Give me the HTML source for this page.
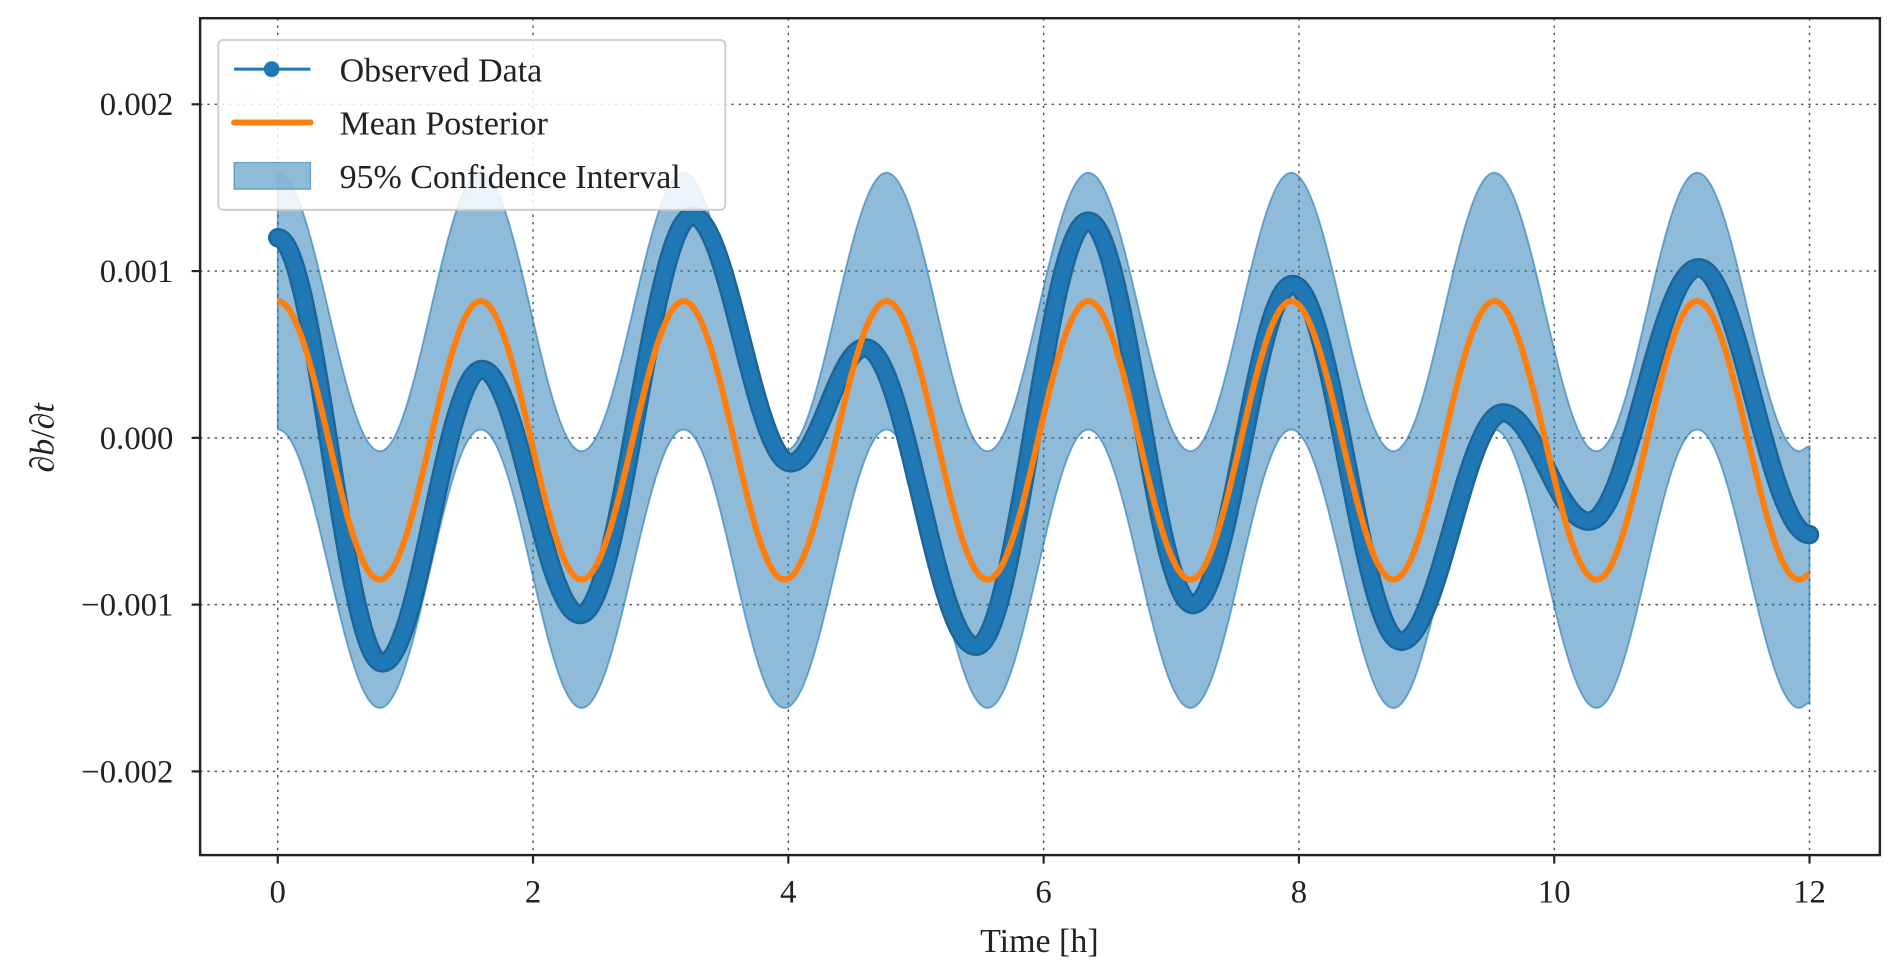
<!DOCTYPE html>
<html><head><meta charset="utf-8"><style>
html,body{margin:0;padding:0;background:#fff;}
svg{display:block;}
svg text{font-family:"Liberation Serif",serif;fill:#222;}
</style></head><body>
<svg id="chart" width="1892" height="976" viewBox="0 0 1560 804.7" preserveAspectRatio="none" xmlns="http://www.w3.org/2000/svg">
<g id="grid"></g>
<g id="band"></g>
<g id="obs"></g>
<g id="mean"></g>
<rect x="165" y="15" width="1385" height="690" fill="none" stroke="#222" stroke-width="2"/>
<g id="ticks"></g>
<text x="857" y="785" font-size="28" text-anchor="middle">Time [h]</text>
<text transform="translate(44,361) rotate(-90)" font-size="28" text-anchor="middle">∂<tspan font-style="italic">b</tspan>/∂<tspan font-style="italic">t</tspan></text>
<g>
<rect x="180" y="33" width="418" height="140" rx="4" fill="#fff" fill-opacity="0.85" stroke="#ccc" stroke-width="1.5"/>
<g>
<line x1="193" y1="57" x2="256" y2="57" stroke="#1f77b4" stroke-width="2.5"/>
<circle cx="224" cy="57" r="6.5" fill="#1f77b4"/>
<text x="280" y="67" font-size="28">Observed Data</text></g>
<g>
<line x1="193" y1="101" x2="256" y2="101" stroke="#ff7f0e" stroke-width="5" stroke-linecap="round"/>
<text x="280" y="111" font-size="28">Mean Posterior</text></g>
<g>
<rect x="193" y="134" width="63" height="22" fill="rgba(31,119,180,0.5)" stroke="rgba(31,119,180,0.6)"/>
<text x="280" y="155" font-size="28">95% Confidence Interval</text></g>
</g>
</svg>
<script>
const xTicks=[0,2,4,6,8,10,12];
const yTicks=[-0.002,-0.001,0,0.001,0.002];
const yTickLabels=["\u22120.002","\u22120.001","0.000","0.001","0.002"];
const obsTimes=[0,0.82,1.6,2.37,3.25,4.02,4.6,5.47,6.35,7.17,7.95,8.8,9.6,10.27,11.13,12];
const obsValues=[0.0012,-0.00135,0.00041,-0.00106,0.00133,-0.00015,0.00054,-0.00125,0.0013,-0.001,0.00092,-0.00122,0.00015,-0.0005,0.00102,-0.00058];
const meanTimes=[0,0.8,1.59,2.38,3.18,3.97,4.77,5.56,6.35,7.15,7.94,8.74,9.53,10.33,11.12,11.92,12];
const meanValues=[0.00082,-0.00085,0.00082,-0.00085,0.00082,-0.00085,0.00082,-0.00085,0.00082,-0.00085,0.00082,-0.00085,0.00082,-0.00085,0.00082,-0.00085,-0.00082];
const ciHalfWidth=0.00077;

const X=t=>229+t*105.25;
const Y=v=>361-v*137500;
const NS='http://www.w3.org/2000/svg';
function mk(tag,attrs,parent){const e=document.createElementNS(NS,tag);for(const k in attrs)e.setAttribute(k,attrs[k]);parent.appendChild(e);return e;}
function interp(ts,vs,t){for(let i=0;i<ts.length-1;i++){if(t<=ts[i+1]){const f=(t-ts[i])/(ts[i+1]-ts[i]);return vs[i]+(vs[i+1]-vs[i])*(1-Math.cos(Math.PI*f))/2;}}return vs[vs.length-1];}
const samples=[];for(let t=0;t<=12.0001;t+=0.02)samples.push(Math.min(t,12));

const grid=document.getElementById('grid'),ticks=document.getElementById('ticks');
xTicks.forEach(t=>{
 const g=mk('line',{x1:X(t),x2:X(t),y1:15,y2:705,stroke:'#555','stroke-width':1.2,'stroke-dasharray':'2 4'},grid);
 
 
 mk('line',{x1:X(t),x2:X(t),y1:705,y2:712,stroke:'#222','stroke-width':1.8},ticks);
 const tx=mk('text',{x:X(t),y:744,'font-size':27,'text-anchor':'middle'},ticks);tx.textContent=t;
 
 
});
yTicks.forEach((v,i)=>{
 const g=mk('line',{x1:165,x2:1550,y1:Y(v),y2:Y(v),stroke:'#555','stroke-width':1.2,'stroke-dasharray':'2 4'},grid);
 
 
 mk('line',{x1:158,x2:165,y1:Y(v),y2:Y(v),stroke:'#222','stroke-width':1.8},ticks);
 const tx=mk('text',{x:143,y:Y(v)+9,'font-size':27,'text-anchor':'end'},ticks);tx.textContent=yTickLabels[i];
 
 
});
let up=samples.map(t=>X(t)+','+Y(interp(meanTimes,meanValues,t)+ciHalfWidth));
let lo=samples.slice().reverse().map(t=>X(t)+','+Y(interp(meanTimes,meanValues,t)-ciHalfWidth));
const band=mk('polygon',{points:up.concat(lo).join(' '),fill:'rgba(31,119,180,0.5)',stroke:'rgba(31,119,180,0.6)','stroke-width':1.5},document.getElementById('band'));


const og=document.getElementById('obs');
const od='M'+samples.map(t=>X(t).toFixed(1)+','+Y(interp(obsTimes,obsValues,t)).toFixed(1)).join(' L');
const op1=mk('path',{d:od,fill:'none',stroke:'#1a659a','stroke-width':16,'stroke-linejoin':'round','stroke-linecap':'round'},og);


const op2=mk('path',{d:od,fill:'none',stroke:'#1f77b4','stroke-width':12,'stroke-linejoin':'round','stroke-linecap':'round'},og);


const md='M'+samples.map(t=>X(t).toFixed(1)+','+Y(interp(meanTimes,meanValues,t)).toFixed(1)).join(' L');
const mp=mk('path',{d:md,fill:'none',stroke:'#ff7f0e','stroke-width':5,'stroke-linejoin':'round'},document.getElementById('mean'));


</script>
</body></html>
